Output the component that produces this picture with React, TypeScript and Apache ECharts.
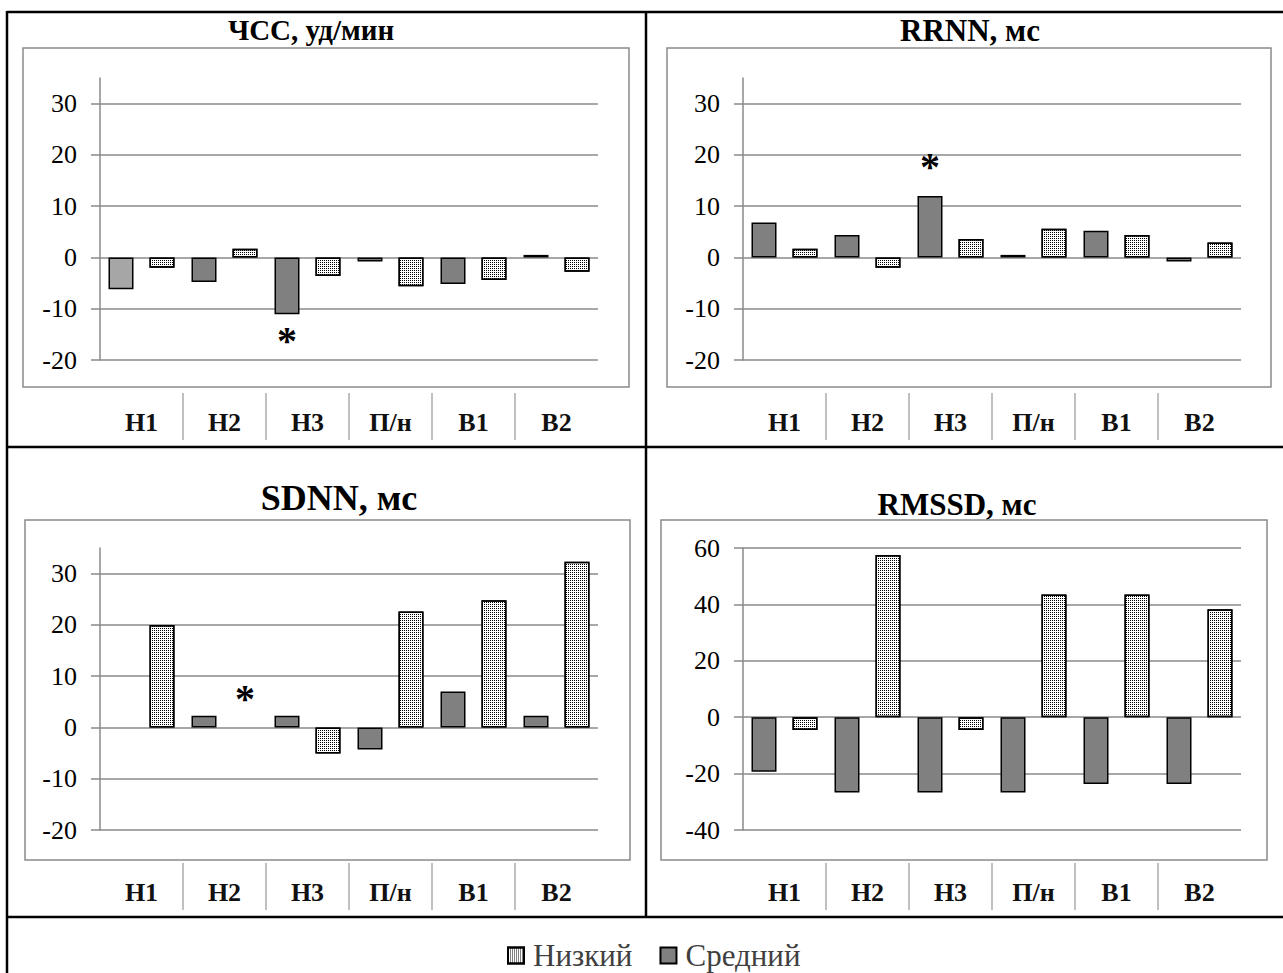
import { useEffect, useRef } from 'react';
import * as echarts from 'echarts';

const categories = ['Н1', 'Н2', 'Н3', 'П/н', 'В1', 'В2'];
const legendNames = ['Низкий', 'Средний'];
const panelTitles = ['ЧСС, уд/мин', 'RRNN, мс', 'SDNN, мс', 'RMSSD, мс'];

// Средний (medium) and Низкий (low) values per panel
const hrMid = [-6.2, -4.8, -11.1, -0.8, -5.2, 0.5];
const hrLow = [-2.0, 1.7, -3.6, -5.6, -4.4, -2.8];
const rrnnMid = [6.8, 4.4, 12.0, 0.5, 5.2, -0.8];
const rrnnLow = [1.7, -2.0, 3.6, 5.6, 4.4, 2.9];
const sdnnMid = [0, 2.3, 2.3, -4.3, 7.0, 2.3];
const sdnnLow = [20.0, 0, -5.1, 22.6, 24.8, 32.3];
const rmssdMid = [-19.3, -26.7, -26.7, -26.7, -23.7, -23.7];
const rmssdLow = [-4.5, 57.5, -4.5, 43.5, 43.5, 38.3];

const midValues = [hrMid, rrnnMid, sdnnMid, rmssdMid];
const lowValues = [hrLow, rrnnLow, sdnnLow, rmssdLow];

const yMins = [-20, -20, -20, -40];
const yMaxs = [35, 35, 35, 60];
const yIntervals = [10, 10, 10, 20];
const yTickLabels = [
  [-20, -10, 0, 10, 20, 30],
  [-20, -10, 0, 10, 20, 30],
  [-20, -10, 0, 10, 20, 30],
  [-40, -20, 0, 20, 40, 60],
];
const separatorValues = [1, 2, 3, 4, 5];

// significance markers (*): panel, series, category index
const markers = [
  { panel: 0, series: 'mid', index: 2, position: 'bottom', distance: 6 },
  { panel: 1, series: 'mid', index: 2, position: 'top', distance: 9 },
  { panel: 2, series: 'low', index: 1, position: 'top', distance: 9 },
];
// light-gray bar in first panel
const lightBars = [{ panel: 0, series: 'mid', index: 0 }];

const SERIF = 'Liberation Serif';
const AXIS_GRAY = '#8a8a8a';
const MID_COLOR = '#808080';
const LIGHT_COLOR = '#a6a6a6';

const grids = [
  { left: 100, top: 78, width: 498, height: 282 },
  { left: 743, top: 78, width: 498, height: 282 },
  { left: 100, top: 548, width: 498, height: 282 },
  { left: 743, top: 548, width: 498, height: 282 },
];

const titlePos = [
  { x: 311, y: 30, size: 29 },
  { x: 970, y: 30, size: 31 },
  { x: 339, y: 498, size: 36 },
  { x: 957, y: 504, size: 31 },
];

const boxes = [
  { x: 23, y: 48, w: 606, h: 339 },
  { x: 667, y: 48, w: 604, h: 339 },
  { x: 25, y: 520, w: 605, h: 340 },
  { x: 661, y: 520, w: 606, h: 340 },
];

const lowDecal = {
  symbol: 'rect',
  symbolSize: 1,
  dashArrayX: [1, 1],
  dashArrayY: [1, 1],
  color: '#000',
  rotation: 0,
};

function buildData(values: number[], panel: number, key: string) {
  return values.map((v, i) => {
    const item: any = { value: v };
    const style: any = {};
    if (v === 0) style.borderWidth = 0;
    if (lightBars.some((b) => b.panel === panel && b.series === key && b.index === i)) {
      style.color = LIGHT_COLOR;
    }
    if (Object.keys(style).length) item.itemStyle = style;
    const m = markers.find((mk) => mk.panel === panel && mk.series === key && mk.index === i);
    if (m) {
      item.label = {
        show: true,
        position: m.position,
        distance: m.distance,
        formatter: '*',
        fontSize: 40,
        fontWeight: 'bold',
        fontFamily: SERIF,
        color: '#000',
      };
    }
    return item;
  });
}

function buildOption() {
  const xAxis: any[] = [];
  const yAxis: any[] = [];
  const series: any[] = [];
  grids.forEach((_, p) => {
    xAxis.push({
      type: 'category',
      gridIndex: p,
      data: categories,
      position: 'bottom',
      axisLine: { show: false },
      axisTick: { show: false },
      splitLine: { show: false },
      axisLabel: {
        margin: 49,
        fontSize: 26,
        fontWeight: 'bold',
        fontFamily: SERIF,
        color: '#111',
      },
    });
    yAxis.push({
      type: 'value',
      gridIndex: p,
      min: yMins[p],
      max: yMaxs[p],
      interval: yIntervals[p],
      axisLine: { show: true, lineStyle: { color: AXIS_GRAY, width: 1.5 } },
      axisTick: {
        show: true,
        length: 9,
        lineStyle: { color: AXIS_GRAY, width: 1.5 },
        customValues: yTickLabels[p],
      },
      axisLabel: {
        margin: 23,
        fontSize: 26,
        fontFamily: SERIF,
        color: '#000',
        customValues: yTickLabels[p],
      },
      splitLine: {
        show: true,
        lineStyle: { color: AXIS_GRAY, width: 1.5 },
      },
    });
  });
  // separator axes
  grids.forEach((_, p) => {
    xAxis.push({
      type: 'value',
      gridIndex: p,
      min: 0,
      max: 6,
      interval: 1,
      position: 'bottom',
      offset: 33,
      axisLine: { show: false },
      axisLabel: { show: false },
      splitLine: { show: false },
      axisTick: {
        show: true,
        length: 47,
        lineStyle: { color: '#c0c0c0', width: 2 },
        customValues: separatorValues,
      },
    });
  });
  grids.forEach((_, p) => {
    series.push({
      name: 'Средний',
      type: 'bar',
      xAxisIndex: p,
      yAxisIndex: p,
      barWidth: 25,
      barGap: '64%',
      itemStyle: { color: MID_COLOR, borderColor: '#000', borderWidth: 1.5 },
      data: buildData(midValues[p], p, 'mid'),
    });
    series.push({
      name: 'Низкий',
      type: 'bar',
      xAxisIndex: p,
      yAxisIndex: p,
      barWidth: 25,
      barGap: '64%',
      itemStyle: { color: '#fff', borderColor: '#000', borderWidth: 1.5, decal: lowDecal },
      data: buildData(lowValues[p], p, 'low'),
    });
  });

  const graphic: any[] = [];
  const border = { stroke: '#000', lineWidth: 2.5 };
  graphic.push({ type: 'line', shape: { x1: 7, y1: 12, x2: 1283, y2: 12 }, style: border });
  graphic.push({ type: 'line', shape: { x1: 7, y1: 11, x2: 7, y2: 973 }, style: border });
  graphic.push({ type: 'line', shape: { x1: 646, y1: 12, x2: 646, y2: 917 }, style: border });
  graphic.push({ type: 'line', shape: { x1: 7, y1: 447, x2: 1283, y2: 447 }, style: border });
  graphic.push({ type: 'line', shape: { x1: 7, y1: 917, x2: 1283, y2: 917 }, style: border });
  boxes.forEach((b) => {
    graphic.push({
      type: 'rect',
      shape: { x: b.x, y: b.y, width: b.w, height: b.h },
      style: { fill: 'none', stroke: AXIS_GRAY, lineWidth: 1.5 },
      z: -1,
    });
  });
  titlePos.forEach((t, i) => {
    graphic.push({
      type: 'text',
      x: t.x,
      y: t.y,
      style: {
        text: panelTitles[i],
        font: `bold ${t.size}px ${SERIF}`,
        fill: '#000',
        textAlign: 'center',
        textVerticalAlign: 'middle',
      },
    });
  });

  return {
    animation: false,
    backgroundColor: '#fff',
    grid: grids.map((g) => ({ ...g, containLabel: false })),
    xAxis,
    yAxis,
    series,
    legend: {
      data: legendNames,
      left: 502,
      top: 935,
      icon: 'rect',
      itemWidth: 16,
      itemHeight: 16,
      itemGap: 27,
      textStyle: { fontSize: 31, fontFamily: SERIF, color: '#404040', padding: [0, 0, 0, 4] },
    },
    graphic,
  };
}

export default function App() {
  const ref = useRef<HTMLDivElement>(null);
  useEffect(() => {
    const chart = echarts.init(ref.current!, null, { renderer: 'svg' });
    chart.setOption(buildOption() as any);
    return () => chart.dispose();
  }, []);
  return (
    <div
      ref={ref}
      style={{ position: 'absolute', left: 0, top: 0, width: 1283, height: 973, background: '#fff' }}
    />
  );
}
